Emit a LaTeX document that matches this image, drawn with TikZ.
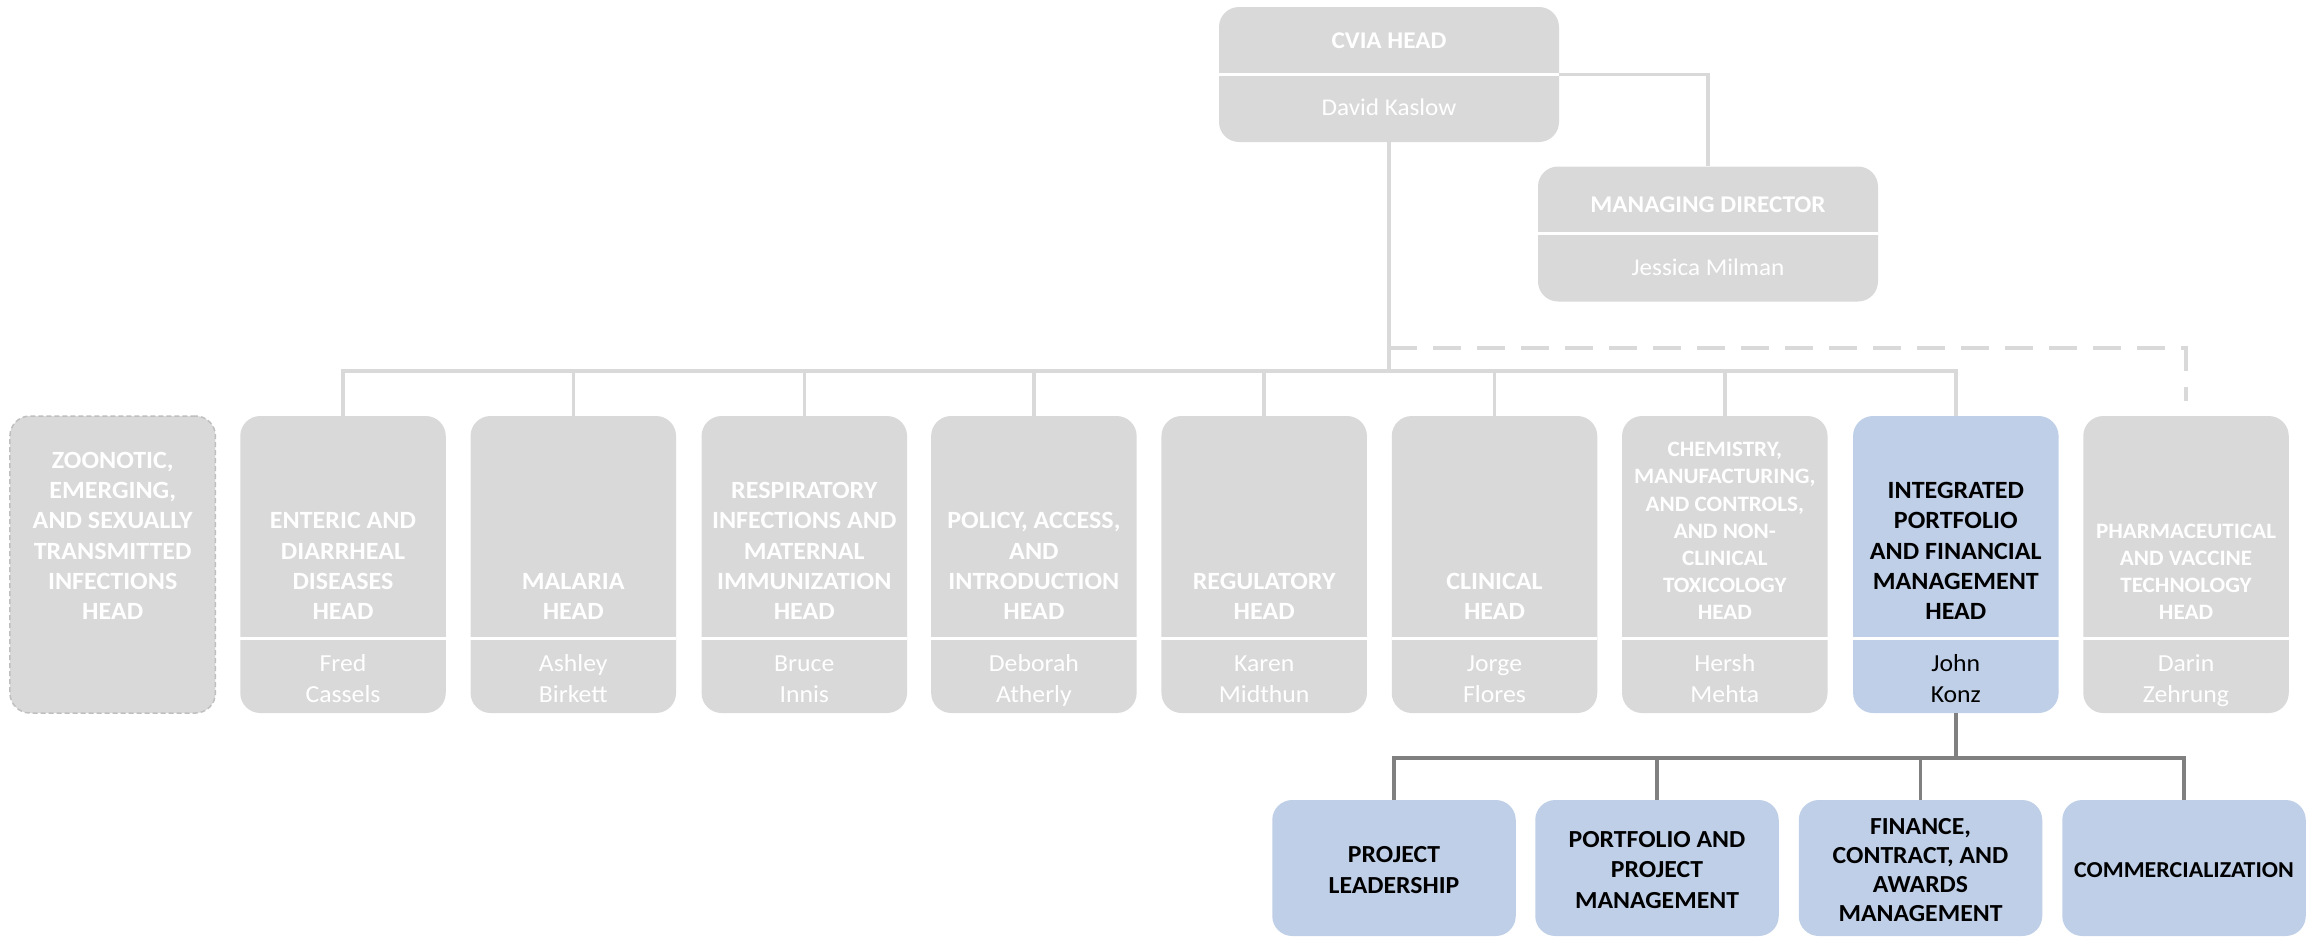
\documentclass[tikz,border=0pt]{standalone}
\usepackage{fontspec}
\setmainfont{Carlito}[FakeStretch=1.05]
\definecolor{boxgray}{HTML}{D9D9D9}
\definecolor{boxblue}{HTML}{BFCFE7}
\definecolor{linegray}{HTML}{D9D9D9}
\definecolor{darkline}{HTML}{808080}
\definecolor{dashborder}{HTML}{BFBFBF}
\tikzset{
  gbox/.style={fill=boxgray, draw=none, rounded corners=20pt, minimum width=205.5pt, minimum height=297pt, inner sep=0pt},
  bbox/.style={gbox, fill=boxblue},
  topbox/.style={fill=boxgray, draw=none, rounded corners=20pt, minimum width=340pt, minimum height=135pt, inner sep=0pt},
  subbox/.style={fill=boxblue, draw=none, rounded corners=20pt, minimum width=243.5pt, minimum height=136pt, inner sep=0pt},
  ttl/.style={text=white, align=center, inner sep=0pt, font=\fontsize{24.8}{30.3}\selectfont\bfseries, anchor=south},
  smallttl/.style={ttl, font=\fontsize{22}{27.2}\selectfont\bfseries},
  nm/.style={text=white, align=center, inner sep=0pt, font=\fontsize{24.5}{30.3}\selectfont, anchor=south, execute at end node={\vphantom{g}}},
  subttl/.style={text=black, align=center, inner sep=0pt, font=\fontsize{24.5}{30.3}\selectfont\bfseries},
  conn/.style={draw=linegray, line width=3.5pt},
  dconn/.style={draw=darkline, line width=3.5pt},
  divider/.style={draw=white, line width=3pt},
}
\begin{document}
\begin{tikzpicture}[x=1pt,y=-1pt]
\useasboundingbox (0,0) rectangle (2315,937);

% top boxes
\node[topbox] (cvia) at (1389,74.5) {};
\node[topbox] (md) at (1708,234) {};
\draw[divider] (cvia.west |- 0,74) -- (cvia.east |- 0,74);
\draw[divider] (md.west |- 0,233) -- (md.east |- 0,233);
\node[text=white, font=\fontsize{24}{30}\selectfont\bfseries, anchor=base] (cviat) at (1389,48.7) {CVIA HEAD};
\node[text=white, font=\fontsize{24}{30}\selectfont, anchor=base] (cvian) at (1389,115.7) {David Kaslow};
\node[text=white, font=\fontsize{24}{30}\selectfont\bfseries, anchor=base] (mdt) at (1708,212.7) {MANAGING DIRECTOR};
\node[text=white, font=\fontsize{24}{30}\selectfont, anchor=base] (mdn) at (1708,275.7) {Jessica Milman};

% row of heads
\node[gbox, draw=dashborder, line width=1.5pt, dash pattern=on 5pt off 3pt] (b1) at (112.7,564.5) {};
\node[gbox] (b2) at (343,564.5) {};
\node[gbox] (b3) at (573.3,564.5) {};
\node[gbox] (b4) at (804.3,564.5) {};
\node[gbox] (b5) at (1033.9,564.5) {};
\node[gbox] (b6) at (1264.2,564.5) {};
\node[gbox] (b7) at (1494.5,564.5) {};
\node[gbox] (b8) at (1724.8,564.5) {};
\node[bbox] (b9) at (1955.8,564.5) {};
\node[gbox] (b10) at (2186,564.5) {};

\coordinate (divy) at (0,638);
\foreach \b in {b2,b3,b4,b5,b6,b7,b8,b9,b10}{
  \draw[divider] (\b.west |- divy) -- (\b.east |- divy);
}

\node[ttl] (t1) at (112.7,620) {ZOONOTIC,\\EMERGING,\\AND SEXUALLY\\TRANSMITTED\\INFECTIONS\\HEAD};
\node[ttl] (t2) at (343,620) {ENTERIC AND\\DIARRHEAL\\DISEASES\\HEAD};
\node[ttl] (t3) at (573.3,620) {MALARIA\\HEAD};
\node[ttl] (t4) at (804.3,620) {RESPIRATORY\\INFECTIONS AND\\MATERNAL\\IMMUNIZATION\\HEAD};
\node[ttl] (t5) at (1033.9,620) {POLICY, ACCESS,\\AND\\INTRODUCTION\\HEAD};
\node[ttl] (t6) at (1264.2,620) {REGULATORY\\HEAD};
\node[ttl] (t7) at (1494.5,620) {CLINICAL\\HEAD};
\node[smallttl] (t8) at (1724.8,620) {CHEMISTRY,\\MANUFACTURING,\\AND CONTROLS,\\AND NON-\\CLINICAL\\TOXICOLOGY\\HEAD};
\node[ttl, text=black] (t9) at (1955.8,620) {INTEGRATED\\PORTFOLIO\\AND FINANCIAL\\MANAGEMENT\\HEAD};
\node[smallttl] (t10) at (2186,620) {PHARMACEUTICAL\\AND VACCINE\\TECHNOLOGY\\HEAD};

\node[nm] (n2) at (343,706.5) {Fred\\Cassels};
\node[nm] (n3) at (573.3,706.5) {Ashley\\Birkett};
\node[nm] (n4) at (804.3,706.5) {Bruce\\Innis};
\node[nm] (n5) at (1033.9,706.5) {Deborah\\Atherly};
\node[nm] (n6) at (1264.2,706.5) {Karen\\Midthun};
\node[nm] (n7) at (1494.5,706.5) {Jorge\\Flores};
\node[nm] (n8) at (1724.8,706.5) {Hersh\\Mehta};
\node[nm, text=black] (n9) at (1955.8,706.5) {John\\Konz};
\node[nm] (n10) at (2186,706.5) {Darin\\Zehrung};

% sub boxes
\node[subbox] (c1) at (1394,868) {};
\node[subbox] (c2) at (1657,868) {};
\node[subbox] (c3) at (1920.5,868) {};
\node[subbox] (c4) at (2184,868) {};
\node[subttl] (s1) at (1394,870) {PROJECT\\LEADERSHIP};
\node[subttl] (s2) at (1657,870) {PORTFOLIO AND\\PROJECT\\MANAGEMENT};
\node[subttl, font=\fontsize{24.5}{28.7}\selectfont\bfseries] (s3) at (1920.5,870) {FINANCE,\\CONTRACT, AND\\AWARDS\\MANAGEMENT};
\node[subttl, font=\fontsize{22.8}{28}\selectfont\bfseries] (s4) at (2184,870) {COMMERCIALIZATION};

% connectors
\coordinate (bus) at (0,371);
\coordinate (dbus) at (0,348);
\coordinate (bus2) at (0,758);
\draw[conn] (cvia.east) -| (md.north);
\foreach \b in {b2,b3,b4,b5,b6,b7,b8,b9}{
  \draw[conn] (cvia.south) -- (cvia.south |- bus) -| (\b.north);
}
\draw[conn, dash pattern=on 28pt off 16pt, shorten >=15pt] (cvia.south |- dbus) -| (b10.north);
\foreach \c in {c1,c2,c3,c4}{
  \draw[dconn] (b9.south) -- (b9.south |- bus2) -| (\c.north);
}
\end{tikzpicture}
\end{document}
